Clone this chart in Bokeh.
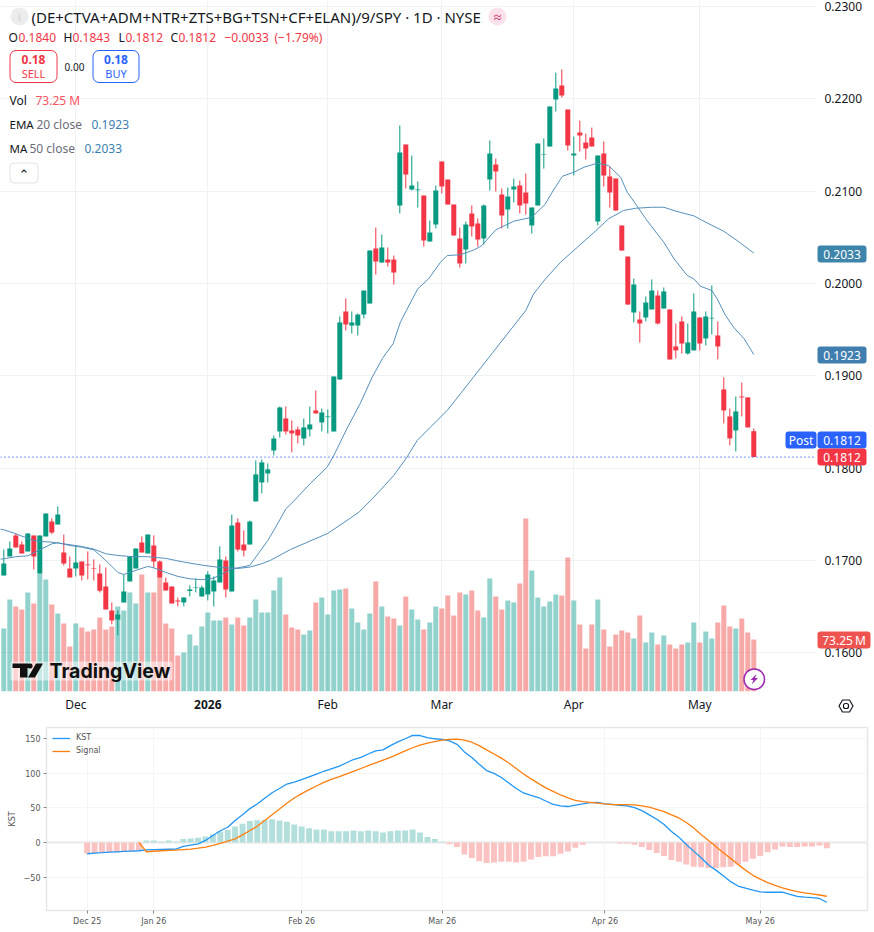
from bokeh.plotting import figure
from bokeh.embed import file_html
from bokeh.resources import INLINE
from bokeh.layouts import column
from bokeh.models import Range1d, FixedTicker, Label, BoxAnnotation, PolyAnnotation, Span, NumeralTickFormatter, Legend, LegendItem

opens = [.16837,.17043,.17271,.17173,.17097,.17271,.16859,.17260,.17422,.17390,
.17087,.16913,.16913,.16989,.16957,.16913,.16859,.16718,.16458,.16361,
.16545,.16772,.16913,.17195,.17076,.17162,.16989,.16762,.16718,.16567,
.16545,.16668,.16700,.16610,.16632,.16664,.16762,.17000,.16664,.17411,
.17173,.17173,.17639,.17845,.17942,.18191,.18397,.18538,.18408,.18419,
.18321,.18419,.18625,.18495,.18552,.18397,.18960,.19697,.19545,.19545,
.19664,.19783,.20379,.20227,.20260,.20260,.20845,.21505,.21018,.21011,
.20953,.20455,.20639,.21321,.21126,.20855,.20487,.20368,.20758,.20650,
.20487,.21126,.21289,.20964,.20801,.21018,.21061,.20985,.20628,.20845,
.21397,.21484,.21993,.22144,.21884,.21386,.21635,.21527,.21581,.20671,
.21408,.21159,.21137,.20628,.20292,.19686,.19610,.19632,.19719,.19870,
.19729,.19719,.19318,.19589,.19242,.19275,.19632,.19405,.19621,.19437,
.18852,.18560,.18408,.18776,.18766,.1840]
highs = [.17119,.17206,.17289,.17206,.17292,.17271,.17271,.17509,.17455,.17585,
.17281,.17043,.17152,.16989,.17097,.17011,.16957,.16924,.16545,.16458,
.16848,.17043,.17130,.17260,.17281,.17271,.17000,.16816,.16718,.16599,
.16599,.16729,.16805,.16729,.16881,.16827,.17152,.17043,.17498,.17455,
.17325,.17433,.18083,.18094,.18051,.18354,.18668,.18668,.18516,.18451,
.18538,.18668,.18841,.18646,.18636,.18993,.19643,.19838,.19697,.19675,
.19924,.20357,.20606,.20531,.20390,.20303,.21711,.21505,.21386,.21105,
.20953,.20682,.21061,.21321,.21126,.20855,.20606,.20671,.20845,.20704,
.20855,.21549,.21354,.21029,.21040,.21137,.21115,.21191,.20823,.21516,
.21570,.21917,.22285,.22318,.21884,.21592,.21765,.21624,.21689,.21386,
.21538,.21267,.21137,.20628,.20292,.20054,.19697,.19859,.20044,.19924,
.19957,.19719,.19567,.19643,.19567,.19892,.19632,.19697,.19979,.19589,
.18982,.18646,.18776,.18928,.18766,.1843]
lows = [.16837,.17043,.17141,.17076,.17097,.16902,.16859,.17260,.17285,.17390,
.16946,.16816,.16827,.16783,.16794,.16783,.16653,.16469,.16307,.16188,
.16545,.16772,.16913,.17087,.17076,.16924,.16816,.16675,.16534,.16502,
.16502,.16610,.16653,.16610,.16567,.16502,.16762,.16599,.16664,.17097,
.17043,.17173,.17639,.17726,.17845,.18137,.18332,.18365,.18170,.18267,
.18246,.18343,.18592,.18397,.18376,.18397,.18960,.19491,.19459,.19437,
.19621,.19783,.20097,.20227,.20184,.19989,.20758,.21029,.21007,.20823,
.20401,.20455,.20596,.20975,.20855,.20520,.20173,.20217,.20509,.20401,
.20422,.21007,.20996,.20596,.20596,.20877,.20758,.20747,.20541,.20845,
.21245,.21484,.21863,.22014,.21440,.21170,.21429,.21343,.21484,.20628,
.21050,.20823,.20790,.20357,.19772,.19578,.19361,.19589,.19719,.19556,
.19729,.19177,.19188,.19242,.19231,.19275,.19275,.19329,.19448,.19177,
.18484,.18246,.18181,.18560,.18441,.1812]
closes = [.16967,.17130,.17141,.17076,.17292,.17043,.17271,.17509,.17303,.17498,
.16967,.16816,.16978,.16837,.16949,.16906,.16671,.16469,.16350,.16415,
.16664,.17043,.17130,.17087,.17281,.16989,.16816,.16675,.16534,.16556,
.16599,.16686,.16708,.16708,.16848,.16783,.17011,.16686,.17379,.17119,
.17108,.17422,.17932,.18062,.17986,.18321,.18657,.18397,.18376,.18354,
.18441,.18473,.18592,.18603,.18560,.18993,.19578,.19556,.19578,.19664,
.19924,.20357,.20238,.20390,.20227,.20119,.21419,.21180,.21061,.21018,
.20466,.20552,.21007,.21050,.20855,.20520,.20217,.20639,.20617,.20476,
.20845,.21408,.21213,.20736,.20942,.21050,.20845,.20866,.20823,.21516,
.21404,.21917,.22112,.22036,.21494,.21408,.21603,.21462,.21484,.21386,
.21170,.20985,.20790,.20357,.19772,.19989,.19567,.19794,.19924,.19567,
.19914,.19177,.19275,.19350,.19361,.19697,.19350,.19643,.19628,.19318,
.18625,.18322,.18614,.18766,.18441,.1812]
volumes = [88.8,129.6,119.7,115.5,139.5,124,166.2,157.8,122.6,109.9,
95.8,63.4,95.8,90.2,84.5,87.3,104.3,87.3,91.6,119.7,
114.1,139.5,124,164.8,139.5,139.5,161,95.8,88.8,50.7,
54.9,80.3,64.8,91.6,111.3,100,100,104.3,94.4,104.3,
93,104.3,129.6,111.3,111.3,142.3,160.6,108.5,90.2,87.3,
80.3,85.9,125.4,132.4,108.5,142.3,143.7,145.1,116.9,97.2,
87.3,109.9,155,119.7,105.7,102.8,93,133.8,115.5,101.4,
87.3,97.2,119.7,116.9,135.2,107.1,139.5,136.7,142.3,114.1,
104.3,159.2,133.8,115.5,128.2,125.4,152.2,243.7,170.5,132.4,
119.7,126.8,136.7,135.2,188.8,128.2,94.4,60.6,94.4,129.6,
87.3,63.4,80.3,85.9,83.1,74.7,107.1,69,83.1,66.2,
78.9,66.2,60.6,66.2,69,97.2,69,84.5,74.7,97.2,
121.2,91.6,88.8,102.8,83.1,73.25]

ema_x = [-1,0,2,4,6,8,9,11,13,15,17,18,19,20,22,24,25,27,29,31,33,35,37,38,39,41,42,43,44,45,46,47,48,
51.1,53.9,55,57.2,59.4,61.4,63.1,64.9,66.1,67.1,69,70.8,72.8,73.9,76.1,78.4,79.7,82,85,88,90.2,91.4,93.1,95,96.7,98.9,
100.8,102.8,103.9,105.3,107,108.9,110,111.7,113.9,115,116.1,118,118.9,120.3,121.7,123.4,125]
ema_y = [.17011,.17018,.17040,.17050,.17115,.17180,.17191,.17162,.17144,.17115,.17000,.16935,.16870,.16848,.16892,.16935,.16920,.16870,.16827,.16801,.16791,.16809,.16874,.16910,.16920,.16946,.17036,.17126,.17217,.17325,.17440,.17559,.17621,
.17834,.18011,.18137,.18430,.18700,.18985,.19188,.19350,.19581,.19708,.19943,.20051,.20231,.20303,.20311,.20365,.20412,.20582,.20675,.20718,.20856,.20989,.21162,.21205,.21260,.21303,
.21278,.21151,.20989,.20863,.20701,.20538,.20447,.20268,.20087,.20051,.19971,.19924,.19834,.19653,.19520,.19401,.1923]
ma_x = [-1,0,2,3,4,5,6,8,10,13,15,17,19,21,24,27,30,33,36,39,41,43,44.4,47.8,54,57.2,59.2,61.7,65,67.2,68.9,71.1,73.9,76.1,81.5,87,88.3,90.3,92.8,95.6,98.4,100.8,103.3,105.3,108,110,112.2,115,117.2,120,122.2,125]
ma_y = [.17343,.17332,.17289,.17263,.17242,.17216,.17206,.17198,.17180,.17151,.17123,.17072,.17054,.17043,.17040,.17022,.16982,.16949,.16924,.16913,.16928,.16964,.17000,.17119,.17293,.17433,.17523,.17686,.17921,.18119,.18300,.18444,.18625,.18805,.19253,.19708,.19888,.20051,.20231,.20393,.20556,.20701,.20791,.20815,.20826,.20826,.20780,.20733,.20657,.20566,.20466,.2033]

price_ticks = [.16,.17,.18,.19,.20,.21,.22,.23]
month_pos = [12,34,54,73,95,116]
month_labels = ["Dec","","Feb","Mar","Apr","May"]

nan = float("nan")
kst = [-16.3,-15.5,-14.8,-14,-13.5,-13,-12.5,-12,-10.6,-10.3,-10,-9.8,-9.6,-5.8,-3.8,-1.9,2.9,10,17,22,
31.7,40,49,55.7,64,72,78,84.5,87.4,91,95,99,103,106.6,110,115,120,123,128,132.6,
134,140,145.5,150,155,154.7,151.8,150,149,147,142,131,123,113,104,100,94,86,78,71.6,
68,65,60,55,53,52,54,55.7,57.6,58,55.7,55,53.8,53,50.4,46,40,33.6,26,16,
7.7,-2.9,-12.5,-22,-32.7,-40,-48,-56.7,-63,-66,-69,-71.6,-72,-72,-72,-75,-78,-79,-79.7,-81,-86.5]
signal = [nan,nan,nan,nan,nan,nan,nan,0,-13.4,-12.7,-12,-11.5,-11,-10.3,-9.6,-8.2,-6.7,-4.3,-1.4,1.9,
5.3,11,17.3,23.5,31.7,40,48.5,56.7,64.4,70.6,76.4,81.7,87,91.3,95,99,102.8,107,111,115,
119,123,127.8,132.6,137,140.7,143.6,146,148,149,149.4,148,145,140,134,128,122,115,107,99,
92,85.5,79,74,68.7,64.4,61,59,58,57,55.7,54.8,54.8,54.8,54.3,52.8,51,48,44.7,40,
35.5,28.8,21,11.5,2.9,-5.8,-15,-23,-31.7,-40,-47.5,-53,-58,-62,-65.8,-68.7,-71,-73,-74.4,-76,-77.8]
hist = [-16,-15.5,-15,-14.5,-14,-13.5,-13,-12,3,3,1,3,1,5,5.8,7,8.6,12,16,18,
23,27,31,32,33,33.6,31.7,30,26,23,20.6,18.7,18.7,16.3,16.3,16.3,17.3,16.3,17.3,16.3,
14.4,16.3,17.3,17.3,18.7,14.4,8,5,1,-2.4,-6.7,-17.3,-22.6,-27,-29.8,-28.8,-27.9,-27.9,-28.8,-27.9,
-24.5,-21,-20,-20,-16.3,-13,-7.7,-3.4,0,0,0,0,-1.4,-1.4,-3.4,-6.7,-11,-15.4,-19.7,-25.5,
-27.9,-32,-35,-36,-37,-37,-36,-35,-32,-27.9,-23.5,-19.7,-14,-10,-5.8,-6.7,-6.7,-5.8,-5.8,-4.3,-8.2]
kst_ticks = [-50,0,50,100,150]
kst_month_pos = [0,9,29,48,70,91]
kst_month_labels = ["Dec 25","Jan 26","Feb 26","Mar 26","Apr 26","May 26"]

UP, DOWN = "#089981", "#F23645"
F = "Noto Sans"
W, H1, H2 = 874, 715, 217

idx = list(range(len(closes)))
cols = [UP if c >= o else DOWN for o, c in zip(opens, closes)]
vcols = ["#26a69a" if c >= o else "#ef5350" for o, c in zip(opens, closes)]
tops = [max(o, c) for o, c in zip(opens, closes)]
bots = [min(o, c) for o, c in zip(opens, closes)]

p = figure(width=W, height=H1, output_backend="svg", toolbar_location=None,
           x_range=Range1d(-0.55, 135.45), y_range=Range1d(.1558, .23066),
           y_axis_location="right", min_border_left=0, min_border_top=0,
           min_border_right=58, min_border_bottom=24, frame_align=False)
p.outline_line_color = None
p.background_fill_color = "white"
p.extra_y_ranges = {"vol": Range1d(0, 973.4)}
p.yaxis.ticker = FixedTicker(ticks=price_ticks)
p.yaxis.formatter = NumeralTickFormatter(format="0.0000")
p.xaxis.ticker = FixedTicker(ticks=month_pos)
p.xaxis.major_label_overrides = {m: l for m, l in zip(month_pos, month_labels)}
for ax in (p.xaxis[0], p.yaxis[0]):
    ax.axis_line_color = None
    ax.major_tick_line_color = None
    ax.major_tick_out = 0
    ax.major_tick_in = 0
    ax.minor_tick_line_color = None
    ax.minor_tick_out = 0
    ax.minor_tick_in = 0
    ax.major_label_text_font = F
    ax.major_label_text_font_size = "12px"
    ax.major_label_text_color = "#131722"
p.yaxis.major_label_standoff = 8
p.xaxis.major_label_standoff = 4
p.grid.grid_line_color = "#f0f1f4"
p.grid.grid_line_width = 1

p.vbar(x=idx, width=5/6, top=volumes, bottom=0, color=vcols, alpha=0.5, line_color=None, y_range_name="vol")
p.segment(x0=idx, x1=idx, y0=lows, y1=highs, color=cols, line_width=1)
p.vbar(x=idx, width=5/6, top=tops, bottom=bots, fill_color=cols, line_color=None)
p.line(ema_x, ema_y, line_color="#5590bb", line_width=1)
p.line(ma_x, ma_y, line_color="#5590bb", line_width=1)
p.add_layout(Span(location=closes[-1], dimension="width", line_color="#2962ff", line_width=1.2, line_dash="1 3"))

# KST panel
j = list(range(len(kst)))
hcols = ["#b2dfdb" if h >= 0 else "#fbc2c2" for h in hist]
p2 = figure(width=W, height=H2, output_backend="svg", toolbar_location=None,
            x_range=Range1d(-5.5, 105.5), y_range=Range1d(-98.4, 166.3),
            min_border_left=46, min_border_right=7, min_border_top=12, min_border_bottom=22, frame_align=False)
p2.outline_line_color = "#e6e6e6"
p2.outline_line_width = 1.5
p2.grid.grid_line_color = "#f5f5f5"
p2.xaxis.ticker = FixedTicker(ticks=kst_month_pos)
p2.xaxis.major_label_overrides = {m: l for m, l in zip(kst_month_pos, kst_month_labels)}
p2.yaxis.ticker = FixedTicker(ticks=kst_ticks)
p2.yaxis.major_label_overrides = {-50: "−50", 0: "0", 50: "50", 100: "100", 150: "150"}
p2.yaxis.axis_label = "KST"
p2.yaxis.axis_label_text_font = "DejaVu Sans"
p2.yaxis.axis_label_text_font_size = "8px"
p2.yaxis.axis_label_text_font_style = "normal"
p2.yaxis.axis_label_text_color = "#555555"
p2.yaxis.axis_label_standoff = 4
for ax in (p2.xaxis[0], p2.yaxis[0]):
    ax.axis_line_color = None
    ax.major_tick_line_color = "#888888"
    ax.major_tick_in = 0
    ax.major_tick_out = 3
    ax.minor_tick_line_color = None
    ax.major_label_text_font = "DejaVu Sans"
    ax.major_label_text_font_size = "8px"
    ax.major_label_text_color = "#555555"
    ax.major_label_standoff = 3
p2.add_layout(Span(location=0, dimension="width", line_color="#ececec", line_width=2.5, level="underlay"))
p2.vbar(x=j, width=0.8, top=hist, bottom=0, color=hcols, line_color=None)
r1 = p2.line(j, kst, line_color="#2196F3", line_width=1.3)
r2 = p2.line(j, signal, line_color="#FF7F0E", line_width=1.3)
leg = Legend(items=[LegendItem(label="KST", renderers=[r1]), LegendItem(label="Signal", renderers=[r2])],
             location="top_left", background_fill_alpha=0, border_line_color=None,
             label_text_font="DejaVu Sans", label_text_font_size="8px", label_text_color="#555555",
             glyph_width=18, glyph_height=8, label_height=8, label_standoff=6, spacing=4, margin=6, padding=4)
p2.add_layout(leg)

# transparent overlay holding the header texts and price tags
ov = figure(width=W, height=H1 + H2, output_backend="svg", toolbar_location=None,
            x_range=Range1d(0, W), y_range=Range1d(H1 + H2, 0),
            x_axis_location=None, y_axis_location=None, min_border=0, frame_align=False,
            background_fill_alpha=0, border_fill_alpha=0, outline_line_color=None,
            margin=(-(H1 + H2), 0, 0, 0))
ov.grid.visible = False


def box(x0, y0, x1, y1, fill, line=None, radius=3, lw=1, alpha=1):
    ov.add_layout(BoxAnnotation(left=x0, right=x1, top=y0, bottom=y1,
                                fill_color=fill, fill_alpha=alpha, line_color=line, line_alpha=1, line_width=lw,
                                border_radius=int(radius), editable=False))


def poly(xs, ys, fill=None, line=None, lw=1):
    ov.add_layout(PolyAnnotation(xs=xs, ys=ys, fill_color=fill, fill_alpha=1 if fill else 0,
                                 line_color=line, line_alpha=1, line_width=lw, editable=False))


def txt(x, y, t, size=12, color="#131722", style="normal", align="left", font=F):
    ov.add_layout(Label(x=x, y=y, text=t, text_font=font, text_font_size=f"{size}px", text_color=color,
                        text_font_style=style, text_align=align, text_baseline="middle"))


box(10, 7, 28, 25, "#ececec", radius=9)
txt(19, 16, "i", 11, "#d0d0d0", align="center")
txt(31, 16, "(DE+CTVA+ADM+NTR+ZTS+BG+TSN+CF+ELAN)/9/SPY · 1D · NYSE", 15, "#131722")
box(488, 7, 506, 25, "#fbe1ec", radius=9)
txt(497, 16, "≈", 14, "#c2185b", align="center")
R = "#F23645"
for x, t, c in [(8, "O", "#131722"), (18, "0.1840", R), (63, "H", "#131722"), (72, "0.1843", R),
                (118, "L", "#131722"), (125, "0.1812", R), (170, "C", "#131722"), (178, "0.1812", R),
                (224, "−0.0033", R), (274, "(−1.79%)", R)]:
    txt(x, 37, t, 12, c)
box(9.5, 50, 56.5, 82, "white", R, radius=6)
txt(33, 59, "0.18", 12, R, "bold", "center")
txt(33, 73, "SELL", 11, R, align="center")
txt(74, 66, "0.00", 10, "#131722", align="center")
box(92.5, 50, 138.5, 82, "white", "#2962ff", radius=6)
txt(115.5, 59, "0.18", 12, "#2962ff", "bold", "center")
txt(115.5, 73, "BUY", 11, "#2962ff", align="center")
txt(9, 100, "Vol", 12)
txt(35, 100, "73.25 M", 12, "#f7525f")
txt(9, 124, "EMA", 11.5)
txt(36, 124, "20 close", 12, "#6a6d78")
txt(91, 124, "0.1923", 12, "#3a7fb0")
txt(9, 148, "MA", 11.5)
txt(29, 148, "50 close", 12, "#6a6d78")
txt(84, 148, "0.2033", 12, "#3a7fb0")
box(9.5, 162.5, 37.5, 182.5, "white", "#e0e3eb", radius=4)
txt(23.5, 174, "⌃", 13, "#131722", align="center", font="DejaVu Sans")

box(817, 245, 866, 262, "#3d85aa")
txt(841.5, 253.5, "0.2033", 12, "white", align="center")
box(817, 346, 866, 363, "#3f7eae")
txt(841.5, 354.5, "0.1923", 12, "white", align="center")
box(785, 431, 816, 448, "#2962ff")
txt(800.5, 439.5, "Post", 12, "white", align="center")
box(817, 431, 866, 448, "#2962ff")
txt(841.5, 439.5, "0.1812", 12, "white", align="center")
box(817, 448, 866, 465, R)
txt(841.5, 456.5, "0.1812", 12, "white", align="center")
box(817, 631, 870, 648, "#ef5350")
txt(843.5, 639.5, "73.25\u202fM", 12, "white", align="center")

txt(207.3, 703.5, "2026", 12, "#131722", "bold", "center")

box(10, 661, 172, 680, "white", radius=2, alpha=0.5)
box(12, 663, 28, 667.5, "#111111", radius=0)
box(19.5, 667, 27, 677, "#111111", radius=0)
box(27, 663, 32, 668, "#111111", radius=2)
poly([42.5, 34.5, 27.5, 35.5], [663, 677, 677, 663], fill="#111111")
txt(49, 670, "TradingView", 19.5, "#111111", "bold", font="Inter")

box(743.5, 668.5, 764, 689, "white", "#9c27b0", radius=10, lw=1.5)
poly([756, 750, 753, 751, 757.5, 754.5], [673.5, 679.5, 679.5, 684, 677.5, 677.5], fill="#9c27b0")
poly([838.5, 842, 849, 852.5, 849, 842], [705.5, 699.5, 699.5, 705.5, 711.5, 711.5], line="#131722", lw=1.2)
box(843, 703, 848, 708, "white", "#131722", radius=2, lw=1.2)

layout = column(p, p2, ov, spacing=0)
open("out.html", "w").write(file_html(layout, INLINE))
